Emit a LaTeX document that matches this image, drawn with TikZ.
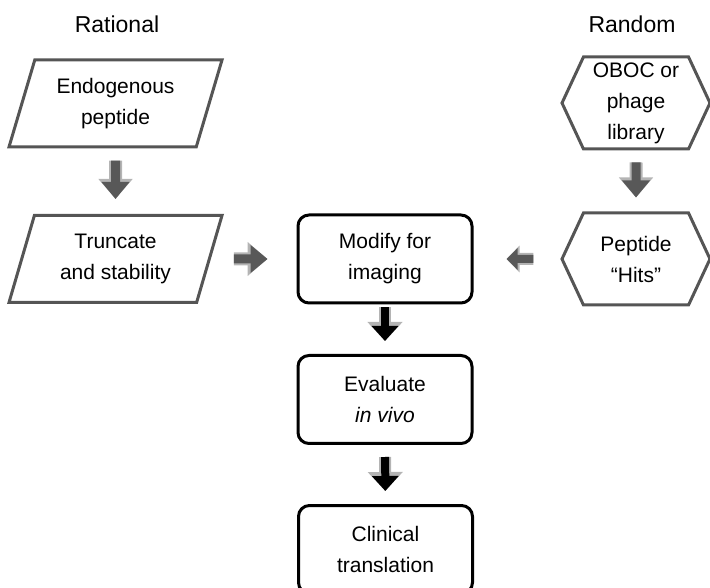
\documentclass[tikz,border=0pt]{standalone}
\usepackage{fontspec}
\setmainfont{Liberation Sans}
\usetikzlibrary{positioning}
\usetikzlibrary{arrows.meta}
\usetikzlibrary{shapes.geometric, shapes.symbols}

\definecolor{edgegray}{HTML}{555555}
\definecolor{arrowgray}{HTML}{585858}
\definecolor{glowgray}{HTML}{B4B4B4}

\tikzset{
  txt/.style={font=\fontsize{21}{31}\selectfont, align=center, inner sep=0pt},
  head/.style={font=\fontsize{23}{28}\selectfont, inner sep=0pt},
  para/.style={txt, draw=edgegray, line width=3pt, trapezium,
    trapezium left angle=63, trapezium right angle=117,
    trapezium stretches body, minimum width=213pt, minimum height=87pt},
  hexa/.style={txt, draw=edgegray, line width=3pt, signal,
    signal to=west and east, signal pointer angle=130,
    minimum width=148pt, minimum height=92pt},
  roundbox/.style={txt, draw=black, line width=3pt, rounded corners=11pt,
    minimum width=174pt, minimum height=88pt},
  grayarrow/.style={preaction={draw=glowgray, line width=13pt,
      -{Triangle[width=33pt,length=20pt]}},
    draw=arrowgray, line width=9pt, -{Triangle[width=27pt,length=17pt]}},
  smallarrow/.style={preaction={draw=glowgray, line width=12pt,
      -{Triangle[width=26pt,length=13pt]}},
    draw=arrowgray, line width=8pt, -{Triangle[width=21pt,length=11pt]}},
  blackarrow/.style={preaction={draw=glowgray, line width=12pt,
      -{Triangle[width=34pt,length=19pt]}},
    draw=black, line width=8pt, -{Triangle[width=26pt,length=15pt]}},
}

\begin{document}
\begin{tikzpicture}[x=1pt, y=1pt]
\clip (0,0) rectangle (710,587);

\node[head] (rational) at (117,563) {Rational};
\node[head] (random) at (632,563) {Random};

\node[para] (endo) at (115.5,483.5) {Endogenous\\peptide};
\node[para] (trunc) at (115.5,328) {Truncate\\and stability};

\node[hexa] (oboc) at (636,484) {OBOC or\\phage\\library};
\node[hexa] (hits) at (636,328) {Peptide\\``Hits''};

\node[roundbox] (modify) at (385,328) {Modify for\\imaging};
\node[roundbox] (evaluate) at (385,187.5) {Evaluate\\\textit{in vivo}};
\node[roundbox] (clinical) at (385.5,37.5) {Clinical\\translation};

\draw[grayarrow, shorten <=12pt, shorten >=15pt] (endo) -- (trunc);
\draw[grayarrow, shorten <=23pt, shorten >=29pt] (trunc) -- (modify);
\draw[grayarrow, shorten <=12pt, shorten >=14pt] (oboc) -- (hits);
\draw[smallarrow, shorten <=27pt, shorten >=33pt] (hits) -- (modify);
\draw[blackarrow, shorten <=3pt, shorten >=13pt] (modify) -- (evaluate);
\draw[blackarrow, shorten <=12pt, shorten >=13pt] (evaluate) -- (clinical);
\end{tikzpicture}
\end{document}
